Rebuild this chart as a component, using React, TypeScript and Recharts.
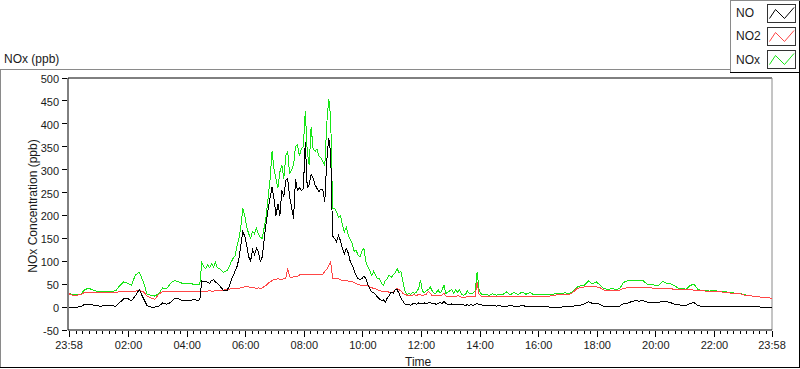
import { LineChart, Line, XAxis, YAxis, ReferenceLine } from "recharts";

// minutes since 23:58
const times = [
  0, 8, 16, 24, 32, 40, 48, 56, 64, 72, 80, 88, 96, 104, 112, 120, 128, 136, 144, 152,
  160, 168, 176, 184, 192, 200, 208, 216, 224, 232, 240, 248, 256, 264, 268,
  272, 276, 280, 284, 288, 292, 296, 300, 304, 308,
  312, 316, 320, 324, 328, 332, 336, 340, 344, 348,
  352, 356, 360, 364, 368, 372, 376, 380, 384, 388,
  392, 396, 400, 404, 408, 412, 416, 420, 424, 428,
  432, 436, 440, 444, 448, 452, 456, 460, 464, 468,
  472, 476, 480, 484, 488, 492, 496, 500, 504, 508,
  512, 516, 520, 524, 528, 532, 536, 540, 544, 548,
  552, 556, 560, 564, 568, 572, 576, 580, 584, 588,
  592, 596, 600, 604, 608, 612, 616, 620, 624, 628,
  632, 636, 640, 644, 648, 652, 656, 660, 664, 668,
  672, 676, 680, 684, 688, 692, 696, 700, 704, 708,
  712, 716, 720, 724, 728, 732, 736, 740, 744, 748,
  752, 756, 760, 764, 768, 772, 776, 780, 784, 788,
  792, 796, 800, 804, 808, 812, 816, 820, 824, 828,
  832, 836, 840, 844, 848, 852, 856, 860, 864, 868,
  872, 876, 880,
  888, 896, 904, 912, 920, 928, 936, 944, 952, 960,
  968, 976, 984, 992, 1000, 1008, 1016, 1024, 1032, 1040,
  1048, 1056, 1064, 1072, 1080, 1088, 1096, 1104, 1112, 1120,
  1128, 1136, 1144, 1152, 1160, 1168, 1176, 1184, 1192, 1200,
  1208, 1216, 1224, 1232, 1240, 1248, 1256, 1264, 1272, 1280,
  1288, 1296, 1304, 1312, 1320, 1328, 1336, 1344, 1352, 1360,
  1368, 1376, 1384, 1392, 1400, 1408, 1416, 1424, 1432, 1440,
];

const noValues = [
  0, 0, 0, 1, 6, 5, 5, 3, 2, 3, 3, 3, 2, 10, 18, 19, 14, 25, 38, 20,
  3, 0, 0, 2, 9, 6, 10, 19, 18, 14, 15, 15, 16, 15, 16,
  57, 55, 57, 54, 52, 58, 60, 55, 52, 48,
  42, 37, 36, 37, 45, 58, 68, 78, 88, 105,
  135, 164, 155, 135, 110, 101, 125, 115, 128, 120,
  100, 110, 150, 185, 215, 240, 262, 235, 200, 225,
  200, 255, 240, 277, 280, 240, 218, 193, 280, 255,
  260, 255, 258, 360, 260, 267, 290, 281, 267, 259,
  252, 258, 255, 230, 320, 369, 335, 155, 150, 142,
  157, 145, 128, 115, 128, 118, 100, 92, 80, 69,
  62, 60, 62, 68, 62, 50, 40, 33, 32, 27,
  22, 18, 14, 16, 11, 20, 25, 33, 30, 38,
  38, 30, 20, 13, 7, 6, 6, 4, 7, 8,
  6, 9, 8, 7, 9, 8, 9, 10, 7, 9,
  6, 8, 10, 7, 12, 8, 6, 5, 7, 5,
  6, 5, 6, 5, 5, 4, 5, 4, 5, 4,
  6, 8, 6, 5, 4, 4, 3, 3, 3, 4,
  3, 2, 3,
  2, 2, 3, 2, 2, 3, 2, 2, 2, 1,
  2, 1, 0, 0, 0, 0, 1, 1, 2, 3,
  4, 7, 12, 8, 8, 6, 1, 1, 1, 1,
  2, 8, 8, 12, 14, 13, 14, 11, 10, 10,
  10, 13, 12, 10, 6, 5, 4, 3, 8, 10,
  3, 2, 1, 1, 1, 1, 1, 1, 1, 1,
  1, 1, 1, 1, 1, 1, 0, 0, 0, 0,
];

const no2Values = [
  29, 26, 26, 27, 32, 32, 32, 32, 31, 31, 31, 32, 32, 34, 34, 34, 35, 35, 36, 34,
  24, 20, 17, 28, 34, 35, 35, 35, 34, 34, 34, 34, 35, 35, 35,
  35, 35, 35, 35, 36, 35, 35, 36, 36, 36,
  37, 37, 38, 37, 39, 40, 40, 40, 41, 41,
  42, 43, 44, 44, 44, 43, 42, 42, 41, 42,
  41, 42, 45, 48, 52, 55, 58, 60, 60, 62,
  61, 60, 62, 63, 84, 66, 64, 66, 66, 67,
  70, 72, 71, 72, 70, 71, 72, 70, 71, 70,
  72, 70, 72, 78, 82, 90, 98, 63, 62, 62,
  62, 60, 58, 58, 57, 57, 56, 55, 54, 51,
  50, 48, 47, 47, 47, 47, 44, 43, 40, 40,
  38, 36, 35, 33, 34, 35, 32, 32, 33, 38,
  40, 38, 35, 30, 28, 26, 25, 25, 26, 27,
  25, 28, 27, 25, 27, 28, 34, 30, 25, 25,
  25, 26, 25, 26, 30, 24, 23, 24, 23, 24,
  23, 25, 24, 21, 20, 21, 24, 23, 22, 24,
  24, 54, 28, 24, 23, 22, 23, 23, 22, 24,
  23, 23, 24,
  24, 23, 24, 23, 24, 23, 24, 23, 24, 23,
  24, 24, 24, 25, 27, 27, 27, 27, 32, 40,
  43, 44, 44, 45, 44, 42, 37, 36, 37, 37,
  37, 41, 42, 43, 43, 43, 43, 42, 42, 41,
  41, 41, 40, 40, 39, 39, 39, 39, 39, 37,
  36, 36, 35, 35, 35, 34, 33, 32, 31, 30,
  30, 29, 26, 25, 24, 23, 22, 21, 21, 18,
];

const noxValues = [
  30, 27, 27, 28, 38, 41, 38, 35, 34, 34, 35, 34, 36, 47, 55, 52, 48, 70, 76, 56,
  28, 26, 24, 30, 42, 40, 52, 58, 55, 52, 52, 51, 50, 50, 50,
  97, 88, 84, 92, 86, 95, 88, 97, 86, 84,
  80, 76, 78, 80, 88, 98, 106, 112, 132, 150,
  175, 215, 200, 175, 160, 150, 165, 160, 172, 160,
  152, 150, 175, 200, 240, 280, 340, 300, 280, 260,
  295, 310, 280, 330, 340, 290, 300, 310, 350, 355,
  330, 345, 350, 427, 340, 310, 394, 345, 340, 345,
  330, 325, 318, 310, 400, 455, 415, 215, 215, 208,
  195, 200, 180, 164, 175, 157, 148, 140, 122, 125,
  113, 110, 122, 128, 100, 88, 80, 69, 78, 70,
  62, 62, 52, 47, 58, 62, 70, 65, 70, 75,
  84, 75, 78, 55, 35, 27, 30, 28, 32, 30,
  33, 40, 58, 34, 32, 36, 38, 44, 35, 30,
  31, 38, 30, 37, 48, 30, 32, 36, 38, 31,
  38, 32, 38, 28, 26, 27, 36, 29, 30, 31,
  35, 77, 38, 29, 27, 28, 27, 26, 27, 29,
  27, 26, 28,
  27, 33, 27, 32, 27, 33, 28, 32, 27, 28,
  28, 27, 27, 28, 30, 30, 31, 30, 34, 43,
  47, 48, 57, 51, 55, 48, 40, 39, 40, 39,
  40, 54, 57, 58, 58, 57, 58, 50, 49, 48,
  47, 56, 52, 51, 47, 41, 41, 39, 47, 50,
  39, 36, 36, 35, 36, 35, 34, 34, 31, 31,
  30, 29, 27, 25, 24, 24, 22, 21, 21, 19,
];

const majorTicks = [0, 122, 242, 362, 482, 602, 722, 842, 962, 1082, 1202, 1322, 1440];
const majorLabels = [
  "23:58", "02:00", "04:00", "06:00", "08:00", "10:00", "12:00",
  "14:00", "16:00", "18:00", "20:00", "22:00", "23:58",
];
const yTicks = [-50, 0, 50, 100, 150, 200, 250, 300, 350, 400, 450, 500];

const minorTicks: number[] = [];
for (let k = 1; k < 108; k++) {
  if (k % 9 !== 0) minorTicks.push(2 + (k * 40) / 3);
}
const xTicks = [...majorTicks, ...minorTicks].sort((a, b) => a - b);

const data = times.map((t, i) => ({
  t,
  no: noValues[i],
  no2: no2Values[i],
  nox: noxValues[i],
}));

const font = "'Liberation Sans', Arial, sans-serif";
const textColor = "#1a1a1a";

const XTick = ({ x, y, payload }: any) => {
  const i = majorTicks.indexOf(payload.value);
  const major = i >= 0;
  return (
    <g>
      <line x1={x} x2={x} y1={y + 1} y2={y + (major ? 7 : 4)} stroke="#000" shapeRendering="crispEdges" />
      {major && (
        <text x={x} y={y + 19} textAnchor="middle" fontSize={11} fontFamily={font} fill={textColor}>
          {majorLabels[i]}
        </text>
      )}
    </g>
  );
};

const YTick = ({ x, y, payload }: any) => (
  <g>
    <line x1={x - 6} x2={x - 1} y1={y} y2={y} stroke="#000" shapeRendering="crispEdges" />
    <text x={x - 9} y={y + 5} textAnchor="end" fontSize={11} fontFamily={font} fill={textColor}>
      {payload.value}
    </text>
  </g>
);

const legendItems = [
  { name: "NO", color: "#000000" },
  { name: "NO2", color: "#ff4646" },
  { name: "NOx", color: "#17e617" },
];

const App = () => {
  return (
    <div style={{ position: "relative", width: 800, height: 369, background: "#fff" }}>
      <style>{"body{margin:0} .recharts-line-curve{shape-rendering:crispEdges}"}</style>
      <LineChart
        width={800}
        height={369}
        data={data}
        margin={{ top: 78, right: 28, bottom: 9, left: 0 }}
      >
        <XAxis
          dataKey="t"
          type="number"
          domain={[0, 1440]}
          ticks={xTicks}
          interval={0}
          tick={<XTick />}
          tickLine={false}
          tickSize={0}
          tickMargin={0}
          height={30}
          padding={{ left: 1 }}
          axisLine={{ stroke: "#000" }}
        />
        <YAxis
          type="number"
          domain={[-50, 500]}
          ticks={yTicks}
          interval={0}
          tick={<YTick />}
          tickLine={false}
          tickSize={0}
          tickMargin={0}
          width={68}
          axisLine={{ stroke: "#000" }}
        />
        <ReferenceLine y={500} stroke="#000" />
        <ReferenceLine x={1440} stroke="#8a8a8a" />
        <Line type="linear" dataKey="nox" stroke="#17e617" strokeWidth={1} dot={false} isAnimationActive={false} />
        <Line type="linear" dataKey="no2" stroke="#ff4646" strokeWidth={1} dot={false} isAnimationActive={false} />
        <Line type="linear" dataKey="no" stroke="#000000" strokeWidth={1} dot={false} isAnimationActive={false} />
      </LineChart>

      <svg
        width={800}
        height={369}
        style={{ position: "absolute", left: 0, top: 0, pointerEvents: "none" }}
      >
        {/* outer graph frame */}
        <line x1={0} x2={730} y1={69.5} y2={69.5} stroke="#8a8a8a" />
        <line x1={0.5} x2={0.5} y1={69} y2={368} stroke="#8a8a8a" />
        <line x1={0} x2={800} y1={367.5} y2={367.5} stroke="#000" />
        <line x1={799.5} x2={799.5} y1={0} y2={368} stroke="#000" />

        {/* legend box */}
        <line x1={730} x2={800} y1={0.5} y2={0.5} stroke="#8a8a8a" />
        <line x1={730.5} x2={730.5} y1={0} y2={73} stroke="#8a8a8a" />
        <line x1={730} x2={800} y1={72.5} y2={72.5} stroke="#000" />
        {legendItems.map((item, i) => {
          const top = 4.5 + i * 23;
          return (
            <g key={item.name}>
              <text x={736} y={17 + i * 23.3} fontSize={12} fontFamily={font} fill={textColor}>
                {item.name}
              </text>
              <rect x={767.5} y={top} width={28} height={18} fill="#fff" stroke="#333" />
              <polyline
                points={`${769.5},${top + 14} ${775.5},${top + 5} ${784.5},${top + 14} ${794},${top + 3}`}
                fill="none"
                stroke={item.color}
              />
            </g>
          );
        })}

        <text x={4} y={63} fontSize={12} fontFamily={font} fill={textColor}>
          NOx (ppb)
        </text>
        <text x={405} y={366} fontSize={12} fontFamily={font} fill={textColor}>
          Time
        </text>
        <text
          x={0}
          y={0}
          fontSize={12}
          fontFamily={font}
          fill={textColor}
          textAnchor="middle"
          transform="translate(37 206) rotate(-90)"
        >
          NOx Concentration (ppb)
        </text>
      </svg>
    </div>
  );
};

export default App;
